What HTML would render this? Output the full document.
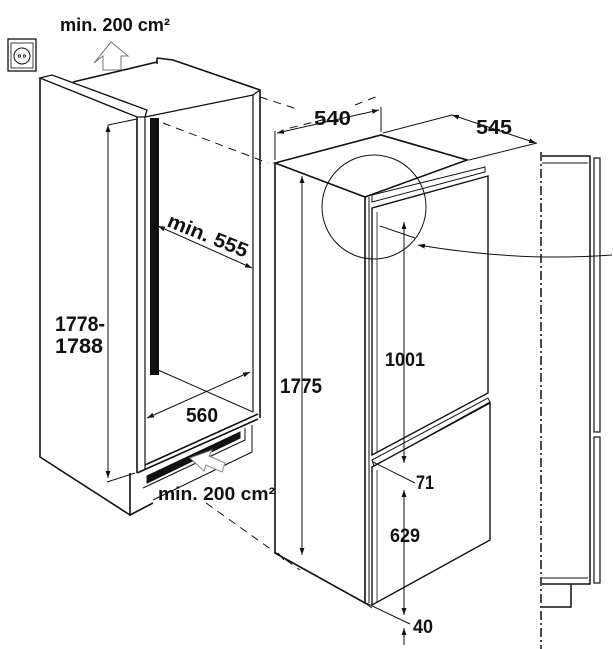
<!DOCTYPE html>
<html><head><meta charset="utf-8"><style>
html,body{margin:0;padding:0;background:#fff}
svg{display:block}
text{font-family:"Liberation Sans Narrow","Liberation Sans",sans-serif;font-weight:bold;fill:#111}
</style></head><body>
<svg width="613" height="649" viewBox="0 0 613 649" xmlns="http://www.w3.org/2000/svg">
<defs>
<marker id="a" viewBox="0 0 10 10" refX="10" refY="5" markerWidth="7" markerHeight="7" orient="auto-start-reverse"><path d="M0,1.5 L10,5 L0,8.5 Z" fill="#111"/></marker>
</defs>
<g fill="none" stroke="#111" stroke-width="1.6">
<rect x="8" y="39" width="28" height="32" fill="#fff" stroke-width="1.3"/>
<rect x="11" y="43" width="22" height="25" stroke-width="0.8"/>
<circle cx="22" cy="56" r="8" stroke-width="1"/>
<circle cx="19.5" cy="56" r="1.2" stroke-width="0.8"/><circle cx="24.5" cy="56" r="1.2" stroke-width="0.8"/>
<path d="M94,63 L103,56 L103,70 L121,70 L121,56 L128,56 L111,42 Z" stroke-width="1" stroke="#777"/>
<path d="M40,78 L40,457 L130,515"/>
<path d="M40,78 L52,75 L147,110 L145,117 L137,117 Z" stroke-width="1.3"/>
<path d="M137,117 L137,473"/>
<path d="M145,117 L145,470" stroke-width="1.2"/>
<path d="M73,82 L157,62"/>
<path d="M157,58 L157,64 M157,58 L173,60 L260,90 L260,418"/>
<path d="M145,117 L253,95 L253,412" stroke-width="1.2"/>
<path d="M253,95 L260,90" stroke-width="1.2"/>
<path d="M158,370 L253,412" stroke-width="1"/>
<path d="M145,465 L258,414 M137,473 L258,419"/>
<path d="M130,473 L130,515 L153,503"/>
<path d="M143,488 L245,440 L245,428 M252,425 L252,452 L153,500" stroke-width="1"/>
<path d="M147,483 L240,438 L240,432 L147,476 Z" fill="#111" stroke-width="1"/>
<rect x="150" y="118" width="9" height="257" fill="#111" stroke="none"/>
<path d="M190,458 L204,471 L206,465 L222,472 L225,463 L209,456 L212,450 Z" stroke="#888" stroke-width="1" fill="#fff"/>
<path d="M108,125 L108,478" stroke-width="1" marker-start="url(#a)" marker-end="url(#a)"/>
<path d="M108,125 L137,119 M107,482 L135,473" stroke-width="1"/>
<path d="M158,226 L252,268" stroke-width="1" marker-start="url(#a)" marker-end="url(#a)"/>
<path d="M147,418 L250,372" stroke-width="1" marker-start="url(#a)" marker-end="url(#a)"/>
<g stroke-dasharray="8,6" stroke-width="1">
<path d="M260,97 L300,110"/>
<path d="M163,123 L268,163"/>
<path d="M206,503 L300,570"/>
<path d="M290,128 L330,118 M355,105 L378,96"/>
</g>
<path d="M275,163 L381,135 L467,160 L365,197 L275,163 Z" stroke-width="1.6"/>
<path d="M275,163 L275,553 L365,603 L365,197" stroke-width="1.6"/>
<path d="M369,197 L369,603" stroke-width="1"/>
<path d="M372,195 L485,167 L485,172 L372,202 Z" stroke-width="1"/>
<path d="M372,208 L488,176 L488,393 L372,455 Z" stroke-width="1.4"/>
<path d="M377,212 L377,452" stroke-width="0.8"/>
<path d="M372,460 L488,398 L490,402 L374,466 Z" stroke-width="1"/>
<path d="M372,467 L490,403 L490,540 L372,605 Z" stroke-width="1.4"/>
<path d="M377,470 L377,603" stroke-width="0.8"/>
<path d="M278,553 L284,560 M365,603 L372,608" stroke-width="1"/>
<circle cx="374" cy="207" r="52" stroke-width="1"/>
<path d="M612,255 Q520,262 418,245" stroke-width="1" marker-end="url(#a)"/>
<path d="M275,160 L275,131 M381,132 L381,107" stroke-width="1"/>
<path d="M277,133 L379,110" stroke-width="1" marker-start="url(#a)" marker-end="url(#a)"/>
<path d="M383,133 L452,115 M469,160 L537,143" stroke-width="1"/>
<path d="M452,115 L536,143" stroke-width="1" marker-start="url(#a)" marker-end="url(#a)"/>
<path d="M302,176 L302,555" stroke-width="1" marker-start="url(#a)" marker-end="url(#a)"/>
<path d="M404,222 L404,463" stroke-width="1" marker-start="url(#a)" marker-end="url(#a)"/>
<path d="M404,490 L404,615" stroke-width="1" marker-start="url(#a)" marker-end="url(#a)"/>
<path d="M404,645 L404,628" stroke-width="1" marker-end="url(#a)"/>
<path d="M373,462 L415,483 M366,603 L410,624 M380,226 L415,238" stroke-width="1"/>
<path d="M541,152 L541,649" stroke-dasharray="9,3,2,3" stroke-width="1.5"/>
<path d="M542,156 L590,156 L590,584 L542,584" stroke-width="1.5"/>
<path d="M542,163 L588,163 M542,578 L588,578" stroke-width="1"/>
<rect x="594" y="158" width="6" height="274" stroke-width="1.2"/>
<rect x="594" y="437" width="6" height="146" stroke-width="1.2"/>
<path d="M542,607 L571,607 L571,584" stroke-width="1.5"/>
</g>
<g lengthAdjust="spacingAndGlyphs">
<text x="60" y="31" font-size="18" textLength="110" lengthAdjust="spacingAndGlyphs">min. 200 cm²</text>
<text x="55" y="331" font-size="21" textLength="50" lengthAdjust="spacingAndGlyphs">1778-</text>
<text x="55" y="353" font-size="21" textLength="48" lengthAdjust="spacingAndGlyphs">1788</text>
<text x="166" y="226" font-size="20" transform="rotate(22 166 226)" textLength="85" lengthAdjust="spacingAndGlyphs">min. 555</text>
<text x="186" y="422" font-size="20" textLength="32" lengthAdjust="spacingAndGlyphs">560</text>
<text x="158" y="500" font-size="18" textLength="117" lengthAdjust="spacingAndGlyphs">min. 200 cm²</text>
<text x="314" y="125" font-size="20" textLength="37" lengthAdjust="spacingAndGlyphs">540</text>
<text x="476" y="134" font-size="20" textLength="36" lengthAdjust="spacingAndGlyphs">545</text>
<text x="280" y="393" font-size="21" textLength="42" lengthAdjust="spacingAndGlyphs">1775</text>
<text x="385" y="366" font-size="19" textLength="40" lengthAdjust="spacingAndGlyphs">1001</text>
<text x="416" y="489" font-size="19" textLength="18" lengthAdjust="spacingAndGlyphs">71</text>
<text x="390" y="542" font-size="19" textLength="30" lengthAdjust="spacingAndGlyphs">629</text>
<text x="413" y="633" font-size="19" textLength="20" lengthAdjust="spacingAndGlyphs">40</text>
</g>
</svg>
</body></html>
